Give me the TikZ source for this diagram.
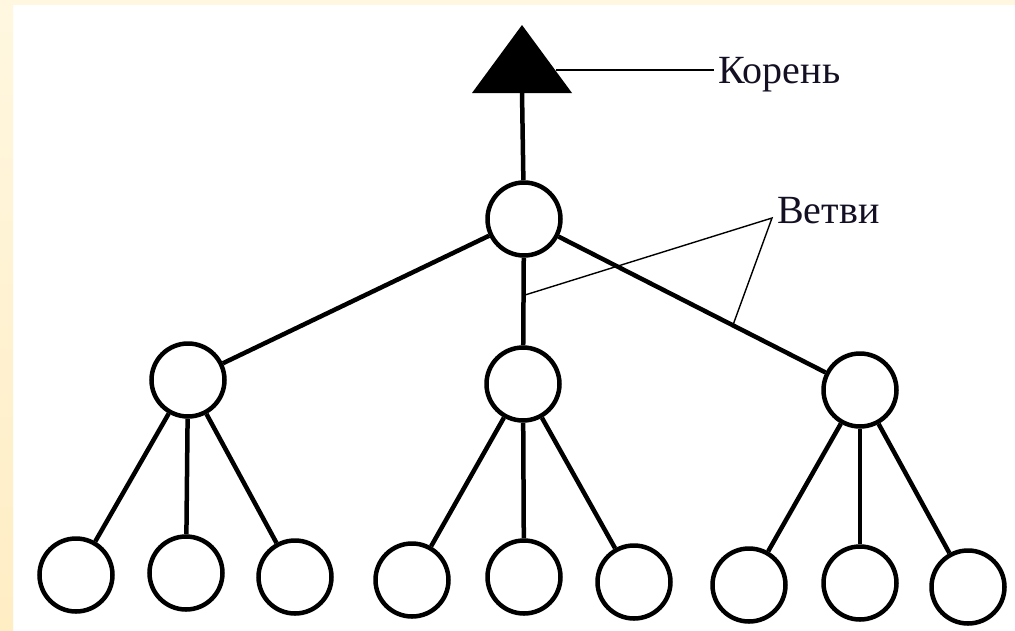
\documentclass[tikz,border=0pt]{standalone}
\usepackage{fontspec}
\setmainfont{Liberation Serif}
\definecolor{creamtop}{RGB}{255,247,224}
\definecolor{creambot}{RGB}{255,237,196}
\definecolor{textcol}{RGB}{20,15,35}
\begin{document}
\begin{tikzpicture}[x=1pt,y=-1pt,
  vert/.style={circle,draw=black,line width=4.5pt,fill=white,minimum size=73pt,inner sep=0pt},
  edge/.style={line width=4.5pt,black},
  pointer/.style={line width=1.4pt,black},
  lbl/.style={font=\fontsize{40}{42}\selectfont,anchor=base west,inner sep=0pt,text=textcol}]
\useasboundingbox (0,0) rectangle (1015,630);
\fill[white] (0,0) rectangle (1015,630);
\shade[top color=creamtop,bottom color=creambot] (0,0) rectangle (13,630);
\fill[creamtop] (0,0) rectangle (1015,5);
% root triangle
\fill[black] (522,25) -- (572,93) -- (472,93) -- cycle;
\coordinate (tribase) at (522,92);
\coordinate (triside) at (556,70);
% nodes
\node[vert] (root) at (524,219) {};
\node[vert] (a) at (188,380) {};
\node[vert] (b) at (523,384) {};
\node[vert] (c) at (860,390) {};
\node[vert] (a1) at (76,575) {};
\node[vert] (a2) at (186,573) {};
\node[vert] (a3) at (295,577) {};
\node[vert] (b1) at (412,580) {};
\node[vert] (b2) at (524,577) {};
\node[vert] (b3) at (634,582) {};
\node[vert] (c1) at (749,585) {};
\node[vert] (c2) at (860,583) {};
\node[vert] (c3) at (968,587) {};
% edges
\draw[edge] (tribase) -- (root);
\foreach \t in {a,b,c} {\draw[edge] (root) -- (\t);}
\foreach \p in {a,b,c} {\foreach \k in {1,2,3} {\draw[edge] (\p) -- (\p\k);}}
% labels
\node[lbl] (koren) at (718,83) {Корень};
\coordinate (kp) at (714,70);
\draw[pointer] (triside) -- (kp);
\node[lbl] (vetvi) at (777,223) {Ветви};
\coordinate (vp) at (772,218);
\coordinate (vb) at (525,295);
\coordinate (vc) at (733,325);
\draw[pointer] (vb) -- (vp) -- (vc);
\end{tikzpicture}
\end{document}
